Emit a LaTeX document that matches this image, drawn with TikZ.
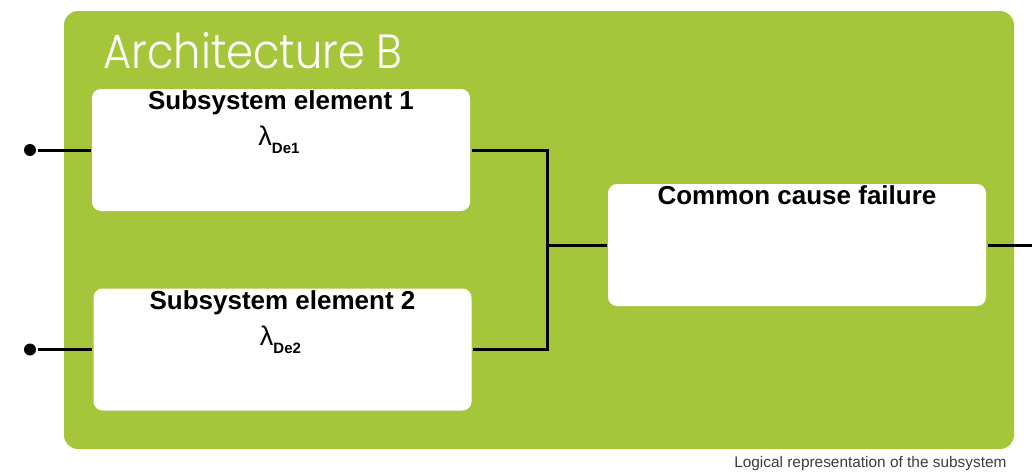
\documentclass[tikz,border=0pt]{standalone}
\usepackage{fontspec}
\setmainfont{Liberation Sans}
\newfontfamily\titlefont{Poppins Light}
\definecolor{archgreen}{RGB}{165,198,58}
\definecolor{captiongray}{RGB}{60,60,60}
\begin{document}
\begin{tikzpicture}[x=1pt, y=-1pt, line width=3pt,
    block/.style={fill=white, rounded corners=9pt, minimum width=378pt, minimum height=122pt, inner sep=0pt},
    heading/.style={font=\fontsize{26}{26}\selectfont\bfseries, inner sep=0pt, anchor=north},
    rate/.style={font=\fontsize{27}{27}\selectfont, inner sep=0pt, anchor=base},
    terminal/.style={circle, fill, inner sep=0pt, minimum size=12pt}]
        \useasboundingbox (0,0) rectangle (1032,471);
        \fill[archgreen, rounded corners=14pt] (64,11) rectangle (1014,449);
        \node[anchor=base west, text=white, inner sep=0pt, font=\titlefont\fontsize{48}{48}\selectfont] (arch) at (102,68) {\scalebox{0.9}[1]{Architecture B}};
        \node[block] (e1) at (281,150) {};
        \node[block] (e2) at (282.5,349.5) {};
        \node[block] (ccf) at (797,245) {};
        \node[heading] (h1) at ([yshift=-2pt]e1.north) {Subsystem element 1};
        \node[heading] (h2) at ([yshift=-2pt]e2.north) {Subsystem element 2};
        \node[heading] (h3) at ([yshift=-2pt]ccf.north) {Common cause failure};
        \node[rate] (r1) at ([xshift=-2pt,yshift=-58pt]e1.north) {λ\raisebox{-8pt}{\fontsize{15}{15}\selectfont\bfseries De1}};
        \node[rate] (r2) at ([xshift=-2pt,yshift=-58pt]e2.north) {λ\raisebox{-8pt}{\fontsize{15}{15}\selectfont\bfseries De2}};
        \node[terminal] (in1) at (30,150) {};
        \node[terminal] (in2) at (30,349.5) {};
        \coordinate (join) at (547,245);
        \coordinate (out) at (1032,245);
        \draw (in1)--(e1.west);
        \draw (in2)--(e2.west);
        \draw (e1.east) -| (join) |- (e2.east);
        \draw (join)--(ccf.west);
        \draw (ccf.east)--(out);
        \node[anchor=base east, inner sep=0pt, text=captiongray, font=\fontsize{15.4}{15.4}\selectfont] (caption) at (1008,467) {Logical representation of the subsystem};
    \end{tikzpicture}
\end{document}
